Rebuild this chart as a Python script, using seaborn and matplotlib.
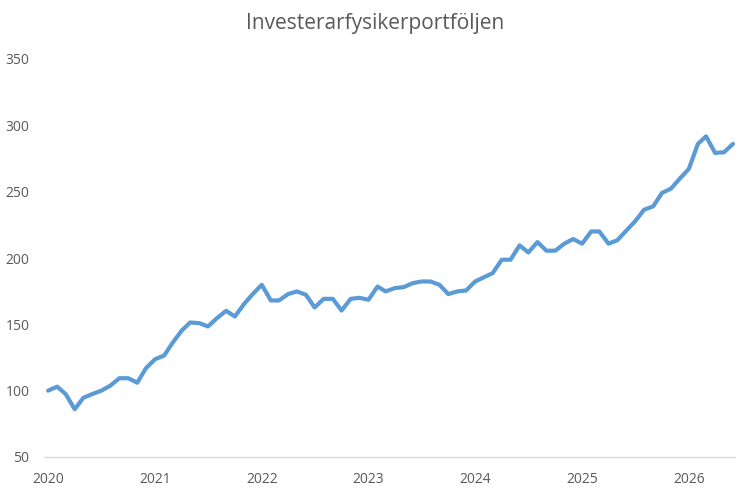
import pandas as pd
import seaborn as sns
import matplotlib.pyplot as plt
import matplotlib.dates as mdates

# Monthly index values, Jan 2020 - Jun 2026
values = [
    100, 103, 97.5, 86, 94.7, 97.5, 100, 103.8, 109.4, 109.4, 106, 117,
    123.7, 126.5, 135.8, 145, 151.4, 150.9, 148.4, 154.7, 160.2, 155.9, 165.2, 172.8,
    179.8, 168, 168, 172.8, 174.8, 172.3, 162.7, 169.2, 169.2, 160.4, 169.2, 170,
    168.5, 178.5, 174.8, 177.3, 178, 181, 182.3, 182.3, 179.8, 172.8, 174.8, 175.5,
    182.3, 185.6, 188.6, 198.7, 198.7, 209.5, 204.2, 212, 205.5, 205.5, 210.8, 214.3,
    210.8, 220, 220, 210.8, 213.3, 220.6, 227.6, 236.4, 238.9, 249, 252.3, 259.8,
    267.1, 286, 291.7, 279.2, 279.7, 286,
]
dates = pd.date_range('2020-01-01', periods=len(values), freq='MS')
year_ticks = pd.date_range('2020-01-01', '2026-01-01', freq='YS')
title = 'Investerarfysikerportföljen'

df = pd.DataFrame({'date': dates, 'value': values})

sns.set_style('white')
plt.rcParams['font.family'] = ['Open Sans', 'DejaVu Sans']
text_color = '#595959'

fig = plt.figure(figsize=(7.51, 4.96), dpi=100)
ax = fig.add_axes([44 / 751, 39 / 496, (735 - 44) / 751, (457 - 59) / 496])

sns.lineplot(data=df, x='date', y='value', ax=ax, color='#5B9BD5', linewidth=3)

ax.set_ylim(50, 350)
ax.set_yticks(range(50, 351, 50))
ax.set_xlim(mdates.date2num(dates[0]) - 14, mdates.date2num(dates[-1]) + 7)
ax.set_xticks(year_ticks)
ax.set_xticklabels([str(d.year) for d in year_ticks])
ax.set_xlabel('')
ax.set_ylabel('')

for side in ['top', 'right', 'left']:
    ax.spines[side].set_visible(False)
ax.spines['bottom'].set_color('#D9D9D9')
ax.spines['bottom'].set_linewidth(1)
ax.tick_params(axis='both', length=0, labelsize=10, labelcolor=text_color)
ax.tick_params(axis='y', pad=10.5)
ax.tick_params(axis='x', pad=11)

fig.text(375 / 751, 1 - 24 / 496, title, ha='center', va='center',
         fontsize=15, color=text_color)

fig.savefig('out.png', dpi=100)
